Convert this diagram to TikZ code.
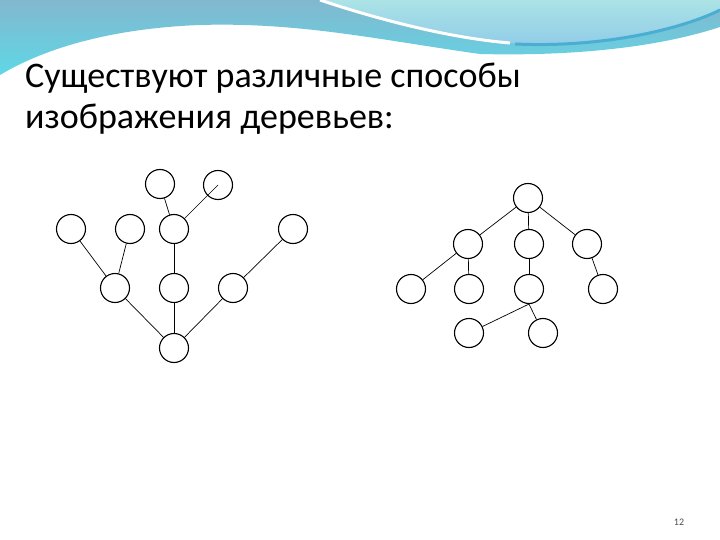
\documentclass[tikz,border=0pt]{standalone}
\usepackage{fontspec}
\setmainfont{Carlito}
\usepackage{tikz}

\definecolor{bandtop}{HTML}{82B8CF}
\definecolor{bandbot}{HTML}{5FD7E6}
\definecolor{aquatop}{HTML}{ABE3E6}
\definecolor{aquabot}{HTML}{8FCBE8}
\definecolor{stripe}{HTML}{4AAED2}

\tikzset{
  vertex/.style={circle, draw=black, line width=1.1pt, minimum size=29pt, inner sep=0pt},
  branch/.style={line width=0.7pt}
}

\begin{document}
\begin{tikzpicture}[x=1pt, y=-1pt]
  \useasboundingbox (0,0) rectangle (720,540);
  % header waves
  \shade[top color=bandtop, bottom color=bandbot]
    (0,0) -- (720,0) -- (720,27) .. controls (650,50) and (560,56) .. (480,54)
    .. controls (380,40) and (300,22) .. (200,25) .. controls (120,28) and (50,45) .. (0,75) -- cycle;
  \shade[top color=aquatop, bottom color=aquabot]
    (320,0) .. controls (380,20) and (450,38) .. (510,43)
    .. controls (600,48) and (680,30) .. (720,10) -- (720,0) -- cycle;
  \draw[white, line width=3pt] (320,0) .. controls (380,20) and (450,38) .. (510,43);
  \draw[stripe, line width=3pt] (515,44) .. controls (600,48) and (680,30) .. (720,10);
  % title
  \node[anchor=base west, inner sep=0pt, font=\fontsize{36}{40}\selectfont] (title1) at (25,88) {Существуют различные способы};
  \node[anchor=base west, inner sep=0pt, font=\fontsize{36}{40}\selectfont] (title2) at (25,129) {изображения деревьев:};

  % left tree: the nodes
  \node[vertex] (A) at (160,184) {};
  \node[vertex] (B) at (218,185) {};
  \node[vertex] (C1) at (71,229) {};
  \node[vertex] (C2) at (130,229) {};
  \node[vertex] (C3) at (174,229) {};
  \node[vertex] (C4) at (293,229) {};
  \node[vertex] (D1) at (115,288) {};
  \node[vertex] (D2) at (174,288) {};
  \node[vertex] (D3) at (233,288) {};
  \node[vertex] (E) at (174,348) {};
  % left tree: the branches
  \draw[branch] (A) -- (C3);
  \draw[branch] (B.center) -- (C3);
  \draw[branch] (C1) -- (D1);
  \draw[branch] (C2) -- (D1);
  \draw[branch] (C3) -- (D2);
  \draw[branch] (C4) -- (D3);
  \draw[branch] (D1) -- (E);
  \draw[branch] (D2) -- (E);
  \draw[branch] (D3) -- (E);

  % right tree: the nodes
  \node[vertex] (R) at (528,198) {};
  \node[vertex] (S1) at (468,244) {};
  \node[vertex] (S2) at (529,244) {};
  \node[vertex] (S3) at (587,244) {};
  \node[vertex] (T1) at (411,289) {};
  \node[vertex] (T2) at (469,289) {};
  \node[vertex] (T3) at (529,289) {};
  \node[vertex] (T4) at (603,289) {};
  \node[vertex] (U1) at (469,333) {};
  \node[vertex] (U2) at (543,333) {};
  % right tree: the branches
  \draw[branch] (R) -- (S1);
  \draw[branch] (R) -- (S2);
  \draw[branch] (R) -- (S3);
  \draw[branch] (S1) -- (T1);
  \draw[branch] (S1) -- (T2);
  \draw[branch] (S2) -- (T3);
  \draw[branch] (S3) -- (T4);
  \draw[branch] (T3.south) -- (U1);
  \draw[branch] (T3.south) -- (U2);

  % page number
  \node[font=\fontsize{10}{11}\selectfont, text=black!70] (page) at (679,522) {12};
\end{tikzpicture}
\end{document}
